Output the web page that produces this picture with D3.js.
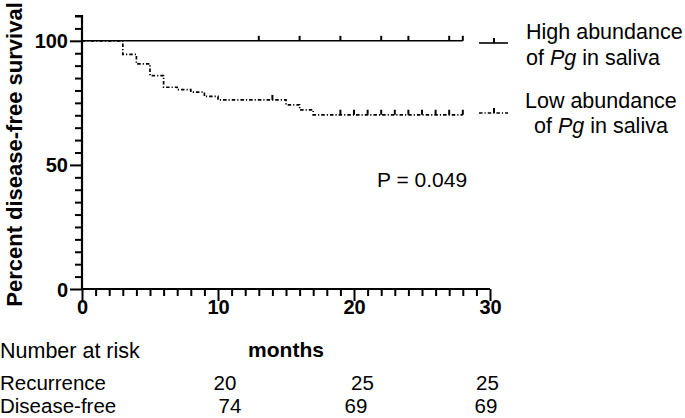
<!DOCTYPE html>
<html lang="en">
<head>
  <meta charset="UTF-8">
  <title>Disease-free survival by Pg abundance</title>
  <style>
    body { margin: 0; background: #fff; }
    svg { display: block; font-family: "Liberation Sans", Arial, sans-serif; }
    .tick-label { font-weight: bold; font-size: 20px; }
  </style>
</head>
<body>
  <div id="chart"></div>
  <script src="https://d3js.org/d3.v7.min.js"></script>
  <script>
    // Kaplan-Meier steps
    const highTimes = [0, 28];
    const highSurv = [100, 100];
    const highCensor = [13, 16, 19, 22, 24, 27, 28];

    const lowTimes = [0, 3, 4, 5, 6, 7, 8, 9, 10, 15, 16, 17, 28];
    const lowSurv = [100, 94.5, 90.7, 86, 81.3, 80.3, 79.3, 77.6, 76.2, 74.2, 72.2, 70.2, 70.2];
    const lowCensor = [14, 19, 20, 21, 22, 23, 24, 25, 26, 27, 28];

    const xTicks = [0, 10, 20, 30];
    const yTicks = [0, 50, 100];

    const riskRows = ["Recurrence", "Disease-free"];
    const riskRecurrence = [20, 25, 25];
    const riskDiseaseFree = [74, 69, 69];

    const W = 685, H = 418;

    const svg = d3.select("#chart").append("svg")
      .attr("width", W)
      .attr("height", H);

    const x = d3.scaleLinear().domain([0, 30]).range([82, 490]);
    const y = d3.scaleLinear().domain([0, 110]).range([289, 16]);

    // axes (GraphPad style: major + minor ticks, thick black)
    const axisX = svg.append("g").attr("transform", `translate(0,${y(0)})`);
    axisX.call(d3.axisBottom(x).tickValues(d3.range(0, 31, 1)).tickSize(7).tickFormat(""));
    axisX.call(g => g.selectAll(".tick").filter(d => d % 10 === 0).select("line").attr("y2", 12));
    axisX.selectAll(".tick").filter(d => xTicks.includes(d)).append("text")
      .attr("class", "tick-label")
      .attr("y", 25)
      .attr("fill", "#000")
      .attr("text-anchor", "middle")
      .text(d => d);

    const axisY = svg.append("g").attr("transform", `translate(${x(0)},0)`);
    axisY.call(d3.axisLeft(y).tickValues(d3.range(0, 111, 5)).tickSize(7).tickFormat(""));
    axisY.call(g => g.selectAll(".tick").filter(d => d % 50 === 0).select("line").attr("x2", -12));
    axisY.selectAll(".tick").filter(d => yTicks.includes(d)).append("text")
      .attr("class", "tick-label")
      .attr("x", -14)
      .attr("dy", "0.35em")
      .attr("fill", "#000")
      .attr("text-anchor", "end")
      .text(d => d);

    [axisX, axisY].forEach(a => {
      a.select(".domain").attr("stroke-width", 2.2).attr("stroke", "#000");
      a.selectAll(".tick line").attr("stroke-width", 2).attr("stroke", "#000");
      a.attr("font-family", null).attr("font-size", null);
    });
    axisX.select(".domain").attr("d", `M${x(0)},0H${x(30)}`);
    axisY.select(".domain").attr("d", `M0,${y(0)}V${y(110)}H-7`);

    // survival curves
    const step = d3.line()
      .x(d => x(d[0]))
      .y(d => y(d[1]))
      .curve(d3.curveStepAfter);

    const lowPts = lowTimes.map((t, i) => [t, lowSurv[i]]);
    const highPts = highTimes.map((t, i) => [t, highSurv[i]]);

    function survAt(times, surv, t) {
      let s = surv[0];
      times.forEach((tt, i) => { if (tt <= t) s = surv[i]; });
      return s;
    }

    svg.append("path")
      .attr("d", step(lowPts))
      .attr("fill", "none")
      .attr("stroke", "#000")
      .attr("stroke-width", 1.7)
      .attr("stroke-dasharray", "3.5,2,1.2,2");

    svg.append("path")
      .attr("d", step(highPts))
      .attr("fill", "none")
      .attr("stroke", "#000")
      .attr("stroke-width", 1.6);

    svg.selectAll(".censor-low")
      .data(lowCensor)
      .enter().append("line")
      .attr("x1", d => x(d)).attr("x2", d => x(d))
      .attr("y1", d => y(survAt(lowTimes, lowSurv, d)))
      .attr("y2", d => y(survAt(lowTimes, lowSurv, d)) - 5)
      .attr("stroke", "#000")
      .attr("stroke-width", 2);

    svg.selectAll(".censor-high")
      .data(highCensor)
      .enter().append("line")
      .attr("x1", d => x(d)).attr("x2", d => x(d))
      .attr("y1", d => y(survAt(highTimes, highSurv, d)))
      .attr("y2", d => y(survAt(highTimes, highSurv, d)) - 5)
      .attr("stroke", "#000")
      .attr("stroke-width", 2);

    // y axis title
    svg.append("text")
      .attr("transform", `translate(22,${(y(0) + y(110)) / 2 + 2}) rotate(-90)`)
      .attr("text-anchor", "middle")
      .attr("font-weight", "bold")
      .attr("font-size", 22)
      .text("Percent disease-free survival");

    // legend
    const legend = svg.append("g");
    function legendItem(yLine, dash, lines, tx, ty) {
      legend.append("line")
        .attr("x1", 479).attr("x2", 508)
        .attr("y1", yLine).attr("y2", yLine)
        .attr("stroke", "#000").attr("stroke-width", 1.6)
        .attr("stroke-dasharray", dash);
      legend.append("line")
        .attr("x1", 494).attr("x2", 494)
        .attr("y1", yLine).attr("y2", yLine - 5)
        .attr("stroke", "#000").attr("stroke-width", 2);
      lines.forEach((ln, i) => {
        const t = legend.append("text")
          .attr("x", tx[i]).attr("y", ty[i])
          .attr("font-size", 21.5);
        ln.forEach(part => {
          t.append("tspan").attr("font-style", part.i ? "italic" : null).text(part.s);
        });
      });
    }
    legendItem(43, null,
      [[{ s: "High abundance" }], [{ s: "of " }, { s: "Pg", i: true }, { s: " in saliva" }]],
      [526, 526], [39, 65]);
    legendItem(113, "3.5,2,1.2,2",
      [[{ s: "Low abundance" }], [{ s: "of " }, { s: "Pg", i: true }, { s: " in saliva" }]],
      [525, 534], [108, 133]);

    // p-value
    svg.append("text")
      .attr("x", 377).attr("y", 187)
      .attr("font-size", 21)
      .text("P = 0.049");

    // x axis title and risk table
    svg.append("text")
      .attr("x", (x(0) + x(30)) / 2).attr("y", 357)
      .attr("text-anchor", "middle")
      .attr("font-weight", "bold")
      .attr("font-size", 21)
      .text("months");

    svg.append("text")
      .attr("x", 0).attr("y", 358)
      .attr("font-size", 21.5)
      .text("Number at risk");

    const rowY = [390, 413];
    const colX = [[225, 362.5, 487.5], [230, 356, 486]];
    [riskRecurrence, riskDiseaseFree].forEach((vals, r) => {
      svg.append("text")
        .attr("x", 0).attr("y", rowY[r])
        .attr("font-size", 20.5)
        .text(riskRows[r]);
      vals.forEach((v, c) => {
        svg.append("text")
          .attr("x", colX[r][c]).attr("y", rowY[r])
          .attr("text-anchor", "middle")
          .attr("font-size", 20.5)
          .text(v);
      });
    });
  </script>
</body>
</html>
